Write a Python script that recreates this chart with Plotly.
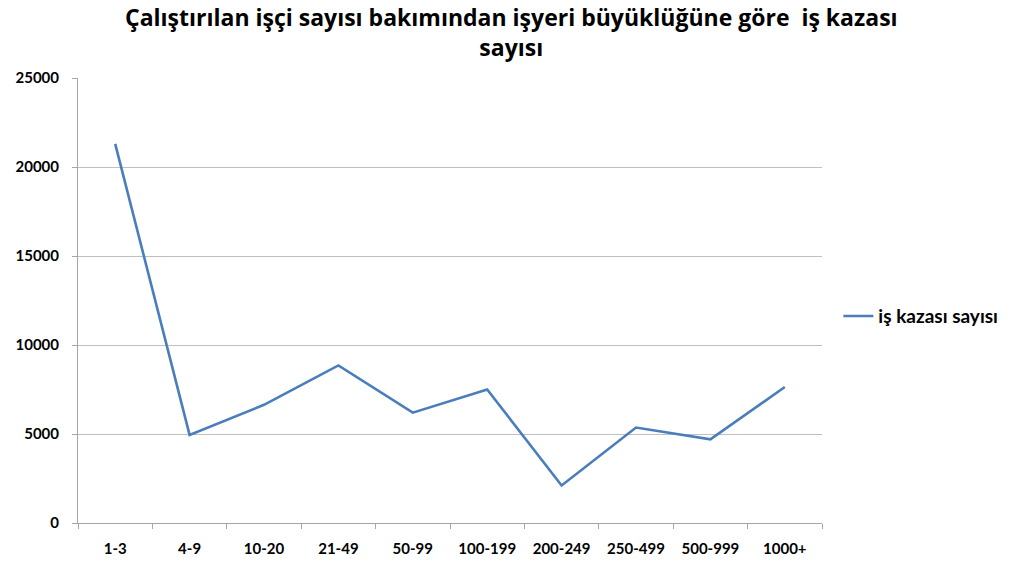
import plotly.graph_objects as go

categories = ["1-3", "4-9", "10-20", "21-49", "50-99", "100-199", "200-249", "250-499", "500-999", "1000+"]
values = [21300, 4950, 6640, 8850, 6200, 7500, 2110, 5360, 4700, 7640]
series_name = "iş kazası sayısı"
title_line1 = "Çalıştırılan işçi sayısı bakımından işyeri büyüklüğüne göre  iş kazası"
title_line2 = "sayısı"

fig = go.Figure()
fig.add_trace(go.Scatter(x=categories, y=values, mode="lines", name=series_name,
                         line=dict(color="#4A7EBB", width=2.6)))

font_family = "Lato, Open Sans, DejaVu Sans, sans-serif"
title_font = dict(family="Open Sans, Lato, sans-serif", size=23, color="black", weight="bold")
fig.add_annotation(text=title_line1 + "<br>" + title_line2, xref="paper", yref="paper",
                   x=0.582, y=1.104, xanchor="center", yanchor="middle", align="center",
                   showarrow=False, font=title_font)

fig.update_layout(
    width=1003, height=555,
    paper_bgcolor="white", plot_bgcolor="white",
    margin=dict(l=70, r=189, t=70, b=40, autoexpand=False),
    showlegend=True,
    legend=dict(x=1.022, y=0.465, xanchor="left", yanchor="middle",
                font=dict(family=font_family, size=19, color="black", weight="bold"),
                bgcolor="rgba(0,0,0,0)"),
    font=dict(family=font_family, color="black"),
)
fig.update_xaxes(type="category", range=[-0.5, 9.5], showline=True, linecolor="#A6A6A6", linewidth=1,
                 ticks="outside", tickson="boundaries", ticklen=5, tickcolor="#A6A6A6",
                 showgrid=False, ticklabelstandoff=12,
                 tickfont=dict(family=font_family, size=15, color="black", weight="bold"))
fig.update_yaxes(range=[0, 25000], dtick=5000, tickformat="d", showline=True, linecolor="#A6A6A6", linewidth=1,
                 ticks="outside", ticklen=5, tickcolor="#A6A6A6",
                 showgrid=True, gridcolor="#BFBFBF", gridwidth=1, zeroline=False,
                 ticklabelstandoff=10,
                 tickfont=dict(family=font_family, size=15, color="black", weight="bold"))

fig.write_html("out.html")
